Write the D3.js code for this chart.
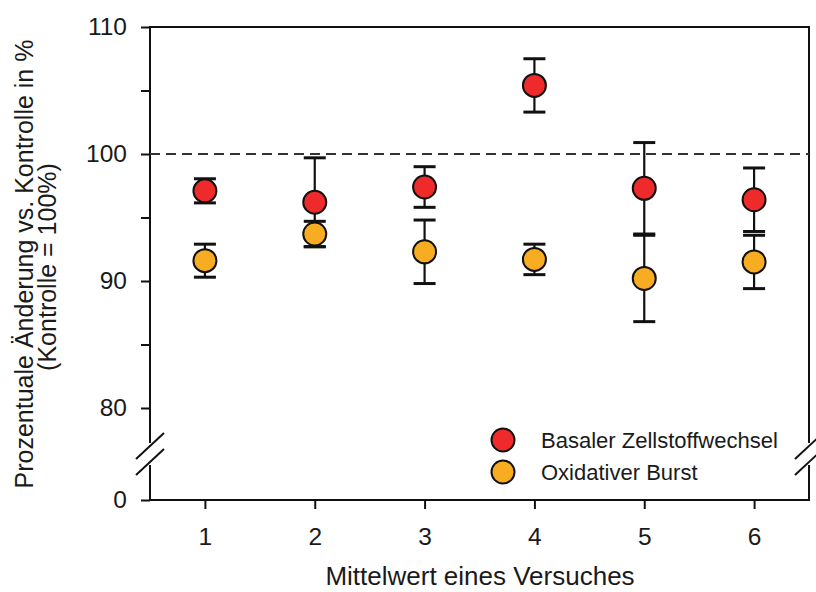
<!DOCTYPE html>
<html>
<head>
<meta charset="utf-8">
<script src="https://cdn.jsdelivr.net/npm/d3@7"></script>
<style>
  body { margin: 0; background: #fff; }
  text { font-family: "Liberation Sans", Arial, sans-serif; fill: #1a1a1a; }
</style>
</head>
<body>
<div class="chart"></div>
<script>
// values
const versuche = [1, 2, 3, 4, 5, 6];
const basalMean = [97.1, 96.2, 97.4, 105.4, 97.3, 96.4];
const basalErr = [0.95, 3.5, 1.6, 2.1, 3.6, 2.5];
const burstMean = [91.6, 93.7, 92.3, 91.7, 90.2, 91.5];
const burstErr = [1.3, 1.0, 2.5, 1.2, 3.4, 2.1];
const yTicksUpper = [80, 90, 100, 110];
const yMinorUpper = [85, 95, 105];
const yTicksLower = [0];
const seriesNames = ["Basaler Zellstoffwechsel", "Oxidativer Burst"];
const seriesColors = ["#ee2a2a", "#f8ac22"];

const W = 816, H = 592;
const plotL = 150, plotR = 809, plotT = 27, plotB = 500;
const breakTop = 443, breakBottom = 465;

const svg = d3.select(".chart").append("svg")
  .attr("width", W).attr("height", H);

const x = d3.scaleLinear().domain([0.5, 6.5]).range([plotL, plotR]);
const yUp = d3.scaleLinear().domain([80, 110]).range([408, plotT]);
const yLow = d3.scaleLinear().domain([0, 3]).range([plotB, breakBottom]);

// axis lines (frame) with break on left and right
const frame = svg.append("g").attr("stroke", "#111").attr("stroke-width", 2).attr("fill", "none");
frame.append("path").attr("d", `M${plotL},${breakTop}V${plotT}H${plotR}V${breakTop}`);
frame.append("path").attr("d", `M${plotL},${breakBottom}V${plotB}H${plotR}V${breakBottom}`);
[plotL, plotR].forEach(cx => {
  [-8, 8].forEach(dy => {
    frame.append("line")
      .attr("x1", cx - 14).attr("y1", (breakTop + breakBottom) / 2 + dy + 13)
      .attr("x2", cx + 14).attr("y2", (breakTop + breakBottom) / 2 + dy - 13);
  });
});

// y axis upper + lower part
const axUp = svg.append("g").attr("transform", `translate(${plotL},0)`)
  .call(d3.axisLeft(yUp).tickValues(yTicksUpper).tickFormat(d3.format("d")).tickSize(9).tickPadding(14));
axUp.select(".domain").remove();
svg.append("g").attr("transform", `translate(${plotL},0)`)
  .call(d3.axisLeft(yUp).tickValues(yMinorUpper).tickSize(9).tickFormat(""))
  .select(".domain").remove();

const axLow = svg.append("g").attr("transform", `translate(${plotL},0)`)
  .call(d3.axisLeft(yLow).tickValues(yTicksLower).tickFormat(d3.format("d")).tickSize(9).tickPadding(14));
axLow.select(".domain").remove();

// x axis
const axX = svg.append("g").attr("transform", `translate(0,${plotB})`)
  .call(d3.axisBottom(x).tickValues(versuche).tickFormat(d3.format("d")).tickSize(9).tickPadding(19));
axX.select(".domain").remove();

svg.selectAll(".tick line").attr("stroke", "#111").attr("stroke-width", 2);
svg.selectAll(".tick text")
  .attr("font-size", 24.5)
  .attr("font-family", "Liberation Sans, Arial, sans-serif")
  .attr("fill", "#1a1a1a");

// dashed reference line at 100
svg.append("line")
  .attr("x1", plotL).attr("x2", plotR)
  .attr("y1", yUp(100)).attr("y2", yUp(100))
  .attr("stroke", "#333").attr("stroke-width", 2).attr("stroke-dasharray", "10,6");

// series
const series = [
  { mean: burstMean, err: burstErr, color: seriesColors[1] },
  { mean: basalMean, err: basalErr, color: seriesColors[0] }
];

// error bars first, then markers
series.forEach(s => {
  const g = svg.append("g").attr("stroke", "#111").attr("stroke-width", 2.2);
  versuche.forEach((v, i) => {
    const hi = yUp(s.mean[i] + s.err[i]), lo = yUp(s.mean[i] - s.err[i]);
    g.append("line").attr("x1", x(v)).attr("x2", x(v)).attr("y1", hi).attr("y2", lo);
    g.append("line").attr("x1", x(v) - 11).attr("x2", x(v) + 11).attr("y1", hi).attr("y2", hi).attr("stroke-width", 3);
    g.append("line").attr("x1", x(v) - 11).attr("x2", x(v) + 11).attr("y1", lo).attr("y2", lo).attr("stroke-width", 3);
  });
});
series.forEach(s => {
  svg.append("g").selectAll("circle")
    .data(versuche)
    .enter().append("circle")
    .attr("cx", d => x(d))
    .attr("cy", (d, i) => yUp(s.mean[i]))
    .attr("r", 11.5)
    .attr("fill", s.color)
    .attr("stroke", "#111")
    .attr("stroke-width", 2);
});

// legend
const legend = svg.append("g");
seriesNames.forEach((name, i) => {
  const ly = 440 + i * 32;
  legend.append("circle").attr("cx", 503).attr("cy", ly).attr("r", 11.5)
    .attr("fill", seriesColors[i]).attr("stroke", "#111").attr("stroke-width", 2);
  legend.append("text")
    .attr("x", 541).attr("y", ly + 7.5)
    .attr("font-size", 22).text(name);
});

// axis titles
svg.append("text")
  .attr("transform", "translate(33,264) rotate(-90)")
  .attr("text-anchor", "middle").attr("font-size", 25)
  .text("Prozentuale Änderung vs. Kontrolle in %");
svg.append("text")
  .attr("transform", "translate(56,267) rotate(-90)")
  .attr("text-anchor", "middle").attr("font-size", 25)
  .text("(Kontrolle = 100%)");
svg.append("text")
  .attr("x", 480).attr("y", 585)
  .attr("text-anchor", "middle").attr("font-size", 26)
  .text("Mittelwert eines Versuches");
</script>
</body>
</html>
